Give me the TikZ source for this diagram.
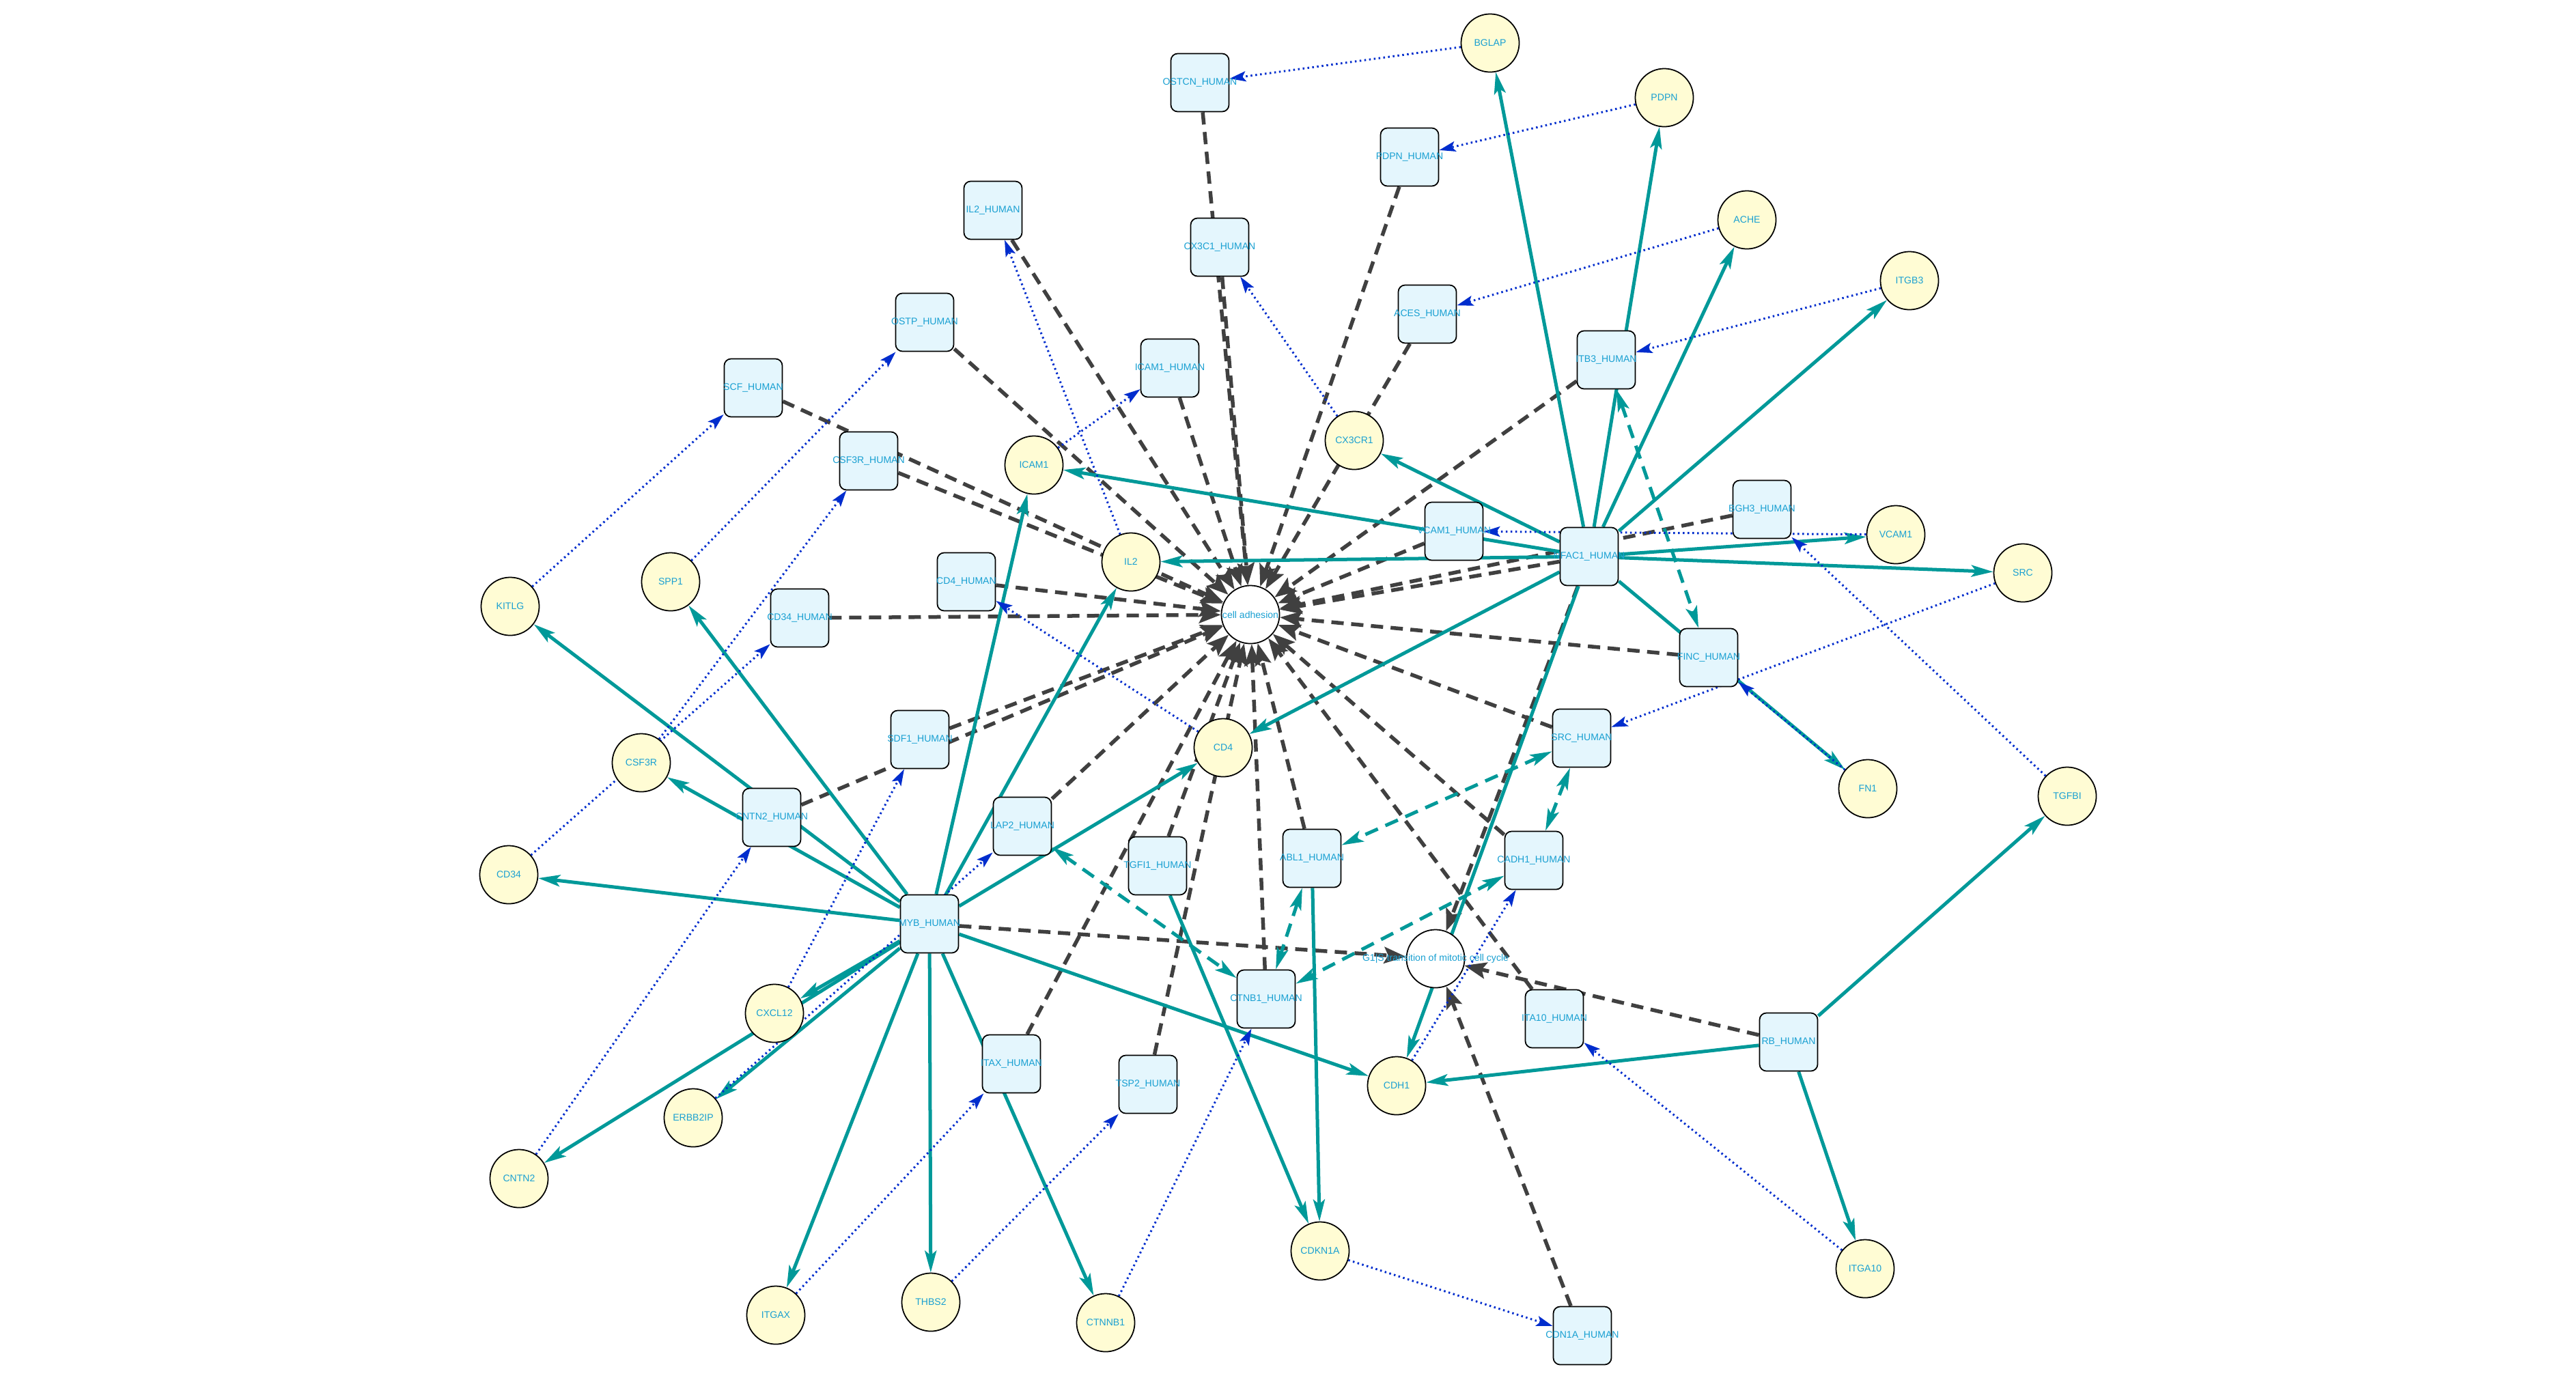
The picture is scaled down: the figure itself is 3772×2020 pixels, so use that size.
\documentclass[tikz,border=0pt]{standalone}
\usepackage{fontspec}
\setmainfont{Liberation Sans}
\usetikzlibrary{arrows.meta,backgrounds}
\definecolor{tealc}{RGB}{0,153,153}
\definecolor{darkc}{RGB}{64,64,64}
\definecolor{bluec}{RGB}{0,45,205}
\definecolor{labc}{RGB}{25,160,210}
\definecolor{boxfill}{RGB}{228,246,253}
\definecolor{genefill}{RGB}{255,252,212}
\newcommand{\nlab}[1]{\makebox[0pt]{#1}}
\begin{document}
\begin{tikzpicture}[x=0.01cm,y=-0.01cm,
  prot/.style={draw=black, line width=0.5pt, fill=boxfill, rounded corners=0.1cm,
    minimum width=0.85cm, minimum height=0.85cm, inner sep=0pt,
    font=\fontsize{4}{4.6}\selectfont, text=labc},
  gene/.style={circle, draw=black, line width=0.5pt, fill=genefill, minimum size=0.85cm,
    inner sep=0pt, font=\fontsize{4}{4.6}\selectfont, text=labc},
  proc/.style={circle, draw=black, line width=0.5pt, fill=white, minimum size=0.85cm,
    inner sep=0pt, font=\fontsize{4}{4.6}\selectfont, text=labc},
  tfedge/.style={draw=tealc, line width=0.05cm, -{Stealth[length=0.32cm,width=0.17cm,inset=0.07cm]}},
  ppiedge/.style={draw=tealc, line width=0.05cm, dash pattern=on 0.2cm off 0.12cm,
    {Stealth[length=0.32cm,width=0.17cm,inset=0.07cm]}-{Stealth[length=0.32cm,width=0.17cm,inset=0.07cm]}},
  procedge/.style={draw=darkc, line width=0.055cm, dash pattern=on 0.18cm off 0.11cm,
    -{Stealth[length=0.32cm,width=0.24cm,inset=0.06cm]}},
  transl/.style={draw=bluec, line width=0.03cm, dash pattern=on 0.025cm off 0.045cm,
    -{Stealth[length=0.24cm,width=0.15cm,inset=0.05cm]}}
]
\useasboundingbox (0,0) rectangle (3772,2020);

% genes
\node[gene] (bglap) at (2182,63) {\nlab{BGLAP}};
\node[gene] (pdpn) at (2437,143) {\nlab{PDPN}};
\node[gene] (ache) at (2558,322) {\nlab{ACHE}};
\node[gene] (itgb3) at (2796,411) {\nlab{ITGB3}};
\node[gene] (cx3cr1) at (1983,645) {\nlab{CX3CR1}};
\node[gene] (icam1) at (1514,681) {\nlab{ICAM1}};
\node[gene] (il2) at (1656,823) {\nlab{IL2}};
\node[gene] (vcam1) at (2776,783) {\nlab{VCAM1}};
\node[gene] (src) at (2962,839) {\nlab{SRC}};
\node[gene] (kitlg) at (747,888) {\nlab{KITLG}};
\node[gene] (spp1) at (982,852) {\nlab{SPP1}};
\node[gene] (csf3r) at (939,1117) {\nlab{CSF3R}};
\node[gene] (cd34) at (745,1281) {\nlab{CD34}};
\node[gene] (cd4) at (1791,1095) {\nlab{CD4}};
\node[gene] (fn1) at (2735,1155) {\nlab{FN1}};
\node[gene] (tgfbi) at (3027,1166) {\nlab{TGFBI}};
\node[gene] (cxcl12) at (1134,1484) {\nlab{CXCL12}};
\node[gene] (erbb2ip) at (1015,1637) {\nlab{ERBB2IP}};
\node[gene] (cntn2) at (760,1726) {\nlab{CNTN2}};
\node[gene] (cdh1) at (2045,1590) {\nlab{CDH1}};
\node[gene] (cdkn1a) at (1933,1832) {\nlab{CDKN1A}};
\node[gene] (itga10) at (2731,1858) {\nlab{ITGA10}};
\node[gene] (itgax) at (1136,1926) {\nlab{ITGAX}};
\node[gene] (thbs2) at (1363,1907) {\nlab{THBS2}};
\node[gene] (ctnnb1) at (1619,1937) {\nlab{CTNNB1}};

% processes
\node[proc] (cad) at (1831,900) {\nlab{cell adhesion}};
\node[proc] (g1s) at (2102,1404) {\nlab{G1|S transition of mitotic cell cycle}};

% proteins
\node[prot] (ostcnH) at (1757,121) {\nlab{OSTCN\_HUMAN}};
\node[prot] (pdpnH) at (2064,230) {\nlab{PDPN\_HUMAN}};
\node[prot] (il2H) at (1454,308) {\nlab{IL2\_HUMAN}};
\node[prot] (cx3c1H) at (1786,362) {\nlab{CX3C1\_HUMAN}};
\node[prot] (acesH) at (2090,460) {\nlab{ACES\_HUMAN}};
\node[prot] (ostpH) at (1354,472) {\nlab{OSTP\_HUMAN}};
\node[prot] (icam1H) at (1713,539) {\nlab{ICAM1\_HUMAN}};
\node[prot] (itb3H) at (2352,527) {\nlab{ITB3\_HUMAN}};
\node[prot] (scfH) at (1103,568) {\nlab{SCF\_HUMAN}};
\node[prot] (csf3rH) at (1272,675) {\nlab{CSF3R\_HUMAN}};
\node[prot] (vcam1H) at (2129,778) {\nlab{VCAM1\_HUMAN}};
\node[prot] (bgh3H) at (2580,746) {\nlab{BGH3\_HUMAN}};
\node[prot] (nfac1H) at (2327,815) {\nlab{NFAC1\_HUMAN}};
\node[prot] (cd4H) at (1415,852) {\nlab{CD4\_HUMAN}};
\node[prot] (cd34H) at (1171,905) {\nlab{CD34\_HUMAN}};
\node[prot] (fincH) at (2502,963) {\nlab{FINC\_HUMAN}};
\node[prot] (srcH) at (2316,1081) {\nlab{SRC\_HUMAN}};
\node[prot] (sdf1H) at (1347,1083) {\nlab{SDF1\_HUMAN}};
\node[prot] (cntn2H) at (1130,1197) {\nlab{CNTN2\_HUMAN}};
\node[prot] (lap2H) at (1497,1210) {\nlab{LAP2\_HUMAN}};
\node[prot] (tgfi1H) at (1695,1268) {\nlab{TGFI1\_HUMAN}};
\node[prot] (abl1H) at (1921,1257) {\nlab{ABL1\_HUMAN}};
\node[prot] (cadh1H) at (2246,1260) {\nlab{CADH1\_HUMAN}};
\node[prot] (mybH) at (1361,1353) {\nlab{MYB\_HUMAN}};
\node[prot] (ctnb1H) at (1854,1463) {\nlab{CTNB1\_HUMAN}};
\node[prot] (ita10H) at (2276,1492) {\nlab{ITA10\_HUMAN}};
\node[prot] (itaxH) at (1481,1558) {\nlab{ITAX\_HUMAN}};
\node[prot] (tsp2H) at (1681,1588) {\nlab{TSP2\_HUMAN}};
\node[prot] (rbH) at (2619,1526) {\nlab{RB\_HUMAN}};
\node[prot] (cdn1aH) at (2317,1956) {\nlab{CDN1A\_HUMAN}};

\begin{pgfonlayer}{background}
\fill[white] (0,0) rectangle (3772,2020);
% protein -> process
\foreach \s in {scfH,csf3rH,ostpH,il2H,icam1H,ostcnH,cx3c1H,pdpnH,acesH,itb3H,vcam1H,bgh3H,nfac1H,fincH,srcH,cadh1H,ita10H,ctnb1H,abl1H,tgfi1H,tsp2H,itaxH,lap2H,cntn2H,sdf1H,cd34H,cd4H}
  \draw[procedge] (\s) -- (cad);
\foreach \s in {mybH,rbH,nfac1H,cdn1aH}
  \draw[procedge] (\s) -- (g1s);
% transcription factor -> gene
\foreach \t in {bglap,pdpn,ache,itgb3,cx3cr1,icam1,il2,cd4,vcam1,src,fn1,cdh1}
  \draw[tfedge] (nfac1H) -- (\t);
\foreach \t in {kitlg,spp1,csf3r,cd34,icam1,il2,cd4,cxcl12,cntn2,erbb2ip,itgax,thbs2,ctnnb1,cdh1}
  \draw[tfedge] (mybH) -- (\t);
\foreach \t in {tgfbi,cdh1,itga10}
  \draw[tfedge] (rbH) -- (\t);
\draw[tfedge] (tgfi1H) -- (cdkn1a);
\draw[tfedge] (abl1H) -- (cdkn1a);
% protein-protein
\draw[ppiedge] (itb3H) -- (fincH);
\draw[ppiedge] (srcH) -- (abl1H);
\draw[ppiedge] (srcH) -- (cadh1H);
\draw[ppiedge] (cadh1H) -- (ctnb1H);
\draw[ppiedge] (lap2H) -- (ctnb1H);
\draw[ppiedge] (abl1H) -- (ctnb1H);
% gene -> protein
\foreach \g/\p in {bglap/ostcnH,pdpn/pdpnH,ache/acesH,itgb3/itb3H,cx3cr1/cx3c1H,icam1/icam1H,il2/il2H,kitlg/scfH,spp1/ostpH,csf3r/csf3rH,cd34/cd34H,cd4/cd4H,cxcl12/sdf1H,cntn2/cntn2H,erbb2ip/lap2H,itgax/itaxH,thbs2/tsp2H,ctnnb1/ctnb1H,cdkn1a/cdn1aH,cdh1/cadh1H,itga10/ita10H,tgfbi/bgh3H,src/srcH,vcam1/vcam1H,fn1/fincH}
  \draw[transl] (\g) -- (\p);
\end{pgfonlayer}
\end{tikzpicture}
\end{document}
